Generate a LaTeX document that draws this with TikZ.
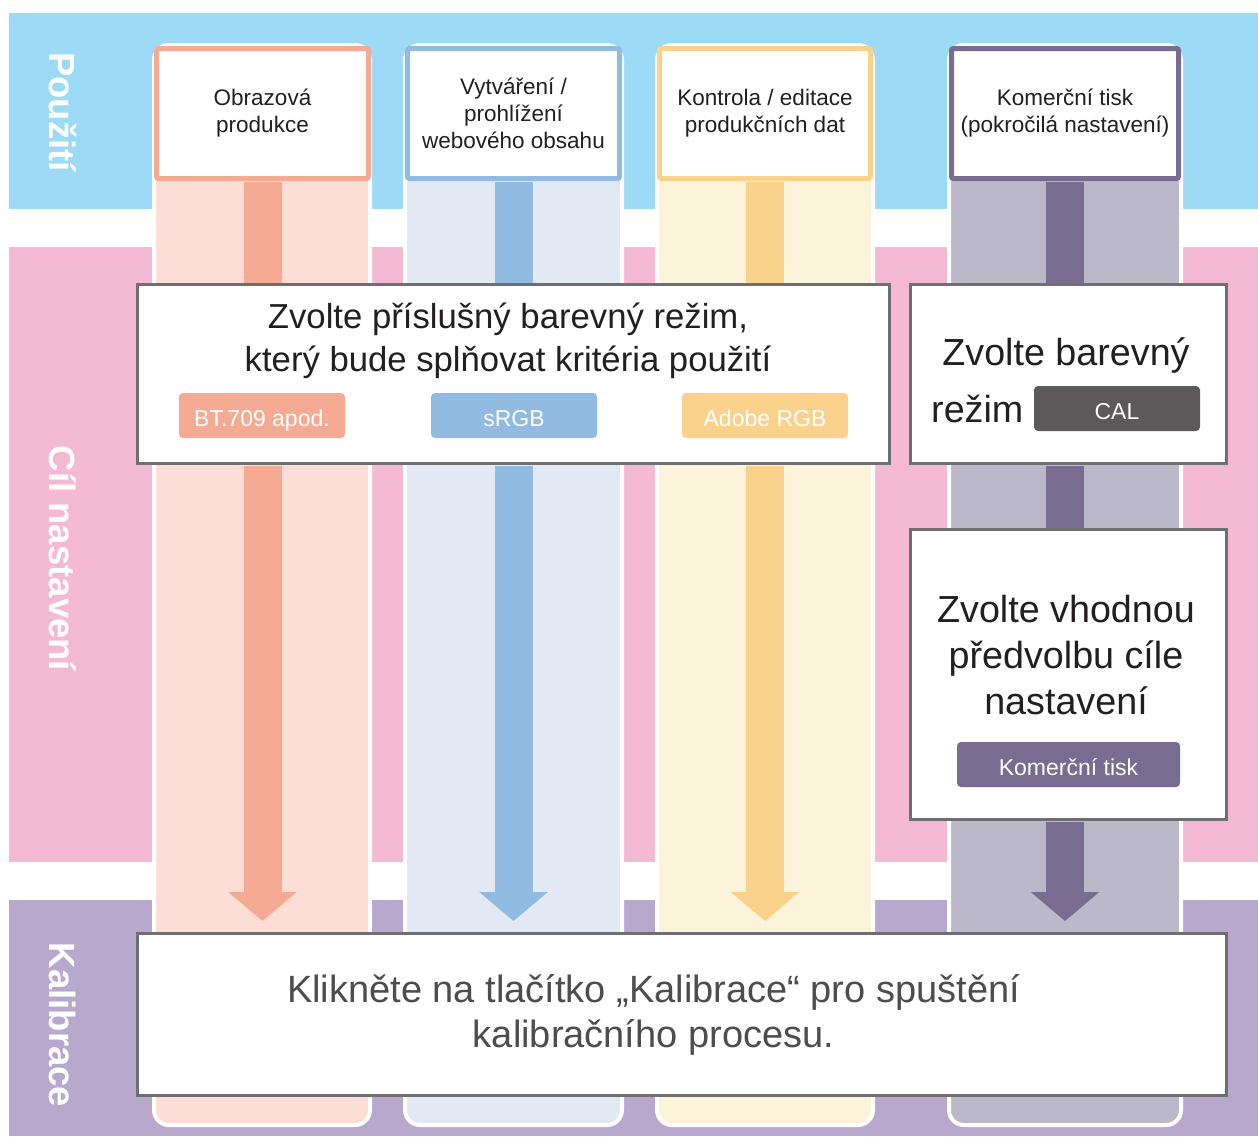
\documentclass[tikz,border=0pt]{standalone}
\usepackage{fontspec}
\setmainfont{Liberation Sans}
\usetikzlibrary{arrows.meta}
\definecolor{bandblue}{HTML}{9CDAF5}
\definecolor{bandpink}{HTML}{F5BAD3}
\definecolor{bandlilac}{HTML}{B9A8CE}
\definecolor{salmonpale}{HTML}{FCDED6}
\definecolor{salmon}{HTML}{F5AB93}
\definecolor{skypale}{HTML}{E2E9F5}
\definecolor{sky}{HTML}{91BBE0}
\definecolor{sandpale}{HTML}{FCF3DB}
\definecolor{sand}{HTML}{FBD28B}
\definecolor{plumpale}{HTML}{BBB8CA}
\definecolor{plum}{HTML}{786D91}
\definecolor{framegray}{HTML}{6D6F71}
\definecolor{inkdark}{HTML}{231F20}
\definecolor{inkgray}{HTML}{4D4D4F}
\definecolor{calgray}{HTML}{5B595A}
\begin{document}
\begin{tikzpicture}[x=1pt,y=-1pt]
			\tikzstyle{every node}+=[inner sep=0pt]
			\tikzstyle{strip}=[draw=white, line width=4pt, rounded corners=15pt]
			\tikzstyle{head}=[draw, fill=white, line width=5pt, rounded corners=2pt, minimum height=130pt, text=inkdark, align=center, font=\fontsize{22.5}{27}\selectfont]
			\tikzstyle{box}=[draw=framegray, fill=white, line width=3pt, minimum height=179pt]
			\tikzstyle{stem}=[line width=38pt, shorten <=1pt]
			\tikzstyle{tip}=[-{Triangle[width=67pt,length=29pt]}, shorten >=11pt]
			\tikzstyle{pill}=[rounded corners=4pt, minimum width=166pt, minimum height=45pt, text height=22pt, text depth=0pt, text=white, font=\fontsize{23}{27}\selectfont]
			\tikzstyle{big}=[text=inkdark, align=center, font=\fontsize{37.7}{46}\selectfont]
			\tikzstyle{side}=[rotate=-90, text=white, font=\bfseries\fontsize{36.5}{40}\selectfont]
			\useasboundingbox [fill=white] (0,0) rectangle (1258,1136);
			\fill [bandblue] (9,13) rectangle (1258,209);
			\fill [bandpink] (9,247) rectangle (1258,862);
			\fill [bandlilac] (9,900) rectangle (1258,1136);
			\node [side] (pouziti) at (63,112) {Použití};
			\node [side] (cil) at (63,558.5) {Cíl nastavení};
			\node [side] (kalibrace) at (63,1025) {Kalibrace};
			\filldraw [strip, fill=salmonpale] (154,45) rectangle (370,1125);
			\filldraw [strip, fill=skypale] (405,45) rectangle (622,1125);
			\filldraw [strip, fill=sandpale] (657,45) rectangle (873,1125);
			\filldraw [strip, fill=plumpale] (949,45) rectangle (1181,1125);
			\node [head, draw=salmon, minimum width=212pt] (obraz) at (262.5,113.5) {Obrazová\\produkce};
			\node [head, draw=sky, minimum width=212pt] (web) at (513.5,113.5) {Vytváření /\\prohlížení\\webového obsahu};
			\node [head, draw=sand, minimum width=211pt] (data) at (765,113.5) {Kontrola / editace\\produkčních dat};
			\node [head, draw=plum, minimum width=227pt] (tisk) at (1065,113.5) {Komerční tisk\\(pokročilá nastavení)};
			\node [box, minimum width=752pt] (volba) at (513.5,374) {};
			\node [box, minimum width=316pt] (rezim) at (1068.5,374) {};
			\node [box, minimum width=316pt, minimum height=290pt] (predvolba) at (1068.5,674.5) {};
			\node [box, minimum width=1089pt, minimum height=162pt] (kalib) at (682,1014.5) {};
			\draw [stem, salmon] (obraz.south) -- (volba.north -| obraz.south);
			\draw [stem, sky] (web.south) -- (volba.north -| web.south);
			\draw [stem, sand] (data.south) -- (volba.north -| data.south);
			\draw [stem, plum] (tisk.south) -- (rezim.north -| tisk.south);
			\draw [stem, plum] (rezim.south -| tisk.south) -- (predvolba.north -| tisk.south);
			\draw [stem, tip, salmon] (volba.south -| obraz.south) -- (kalib.north -| obraz.south);
			\draw [stem, tip, sky] (volba.south -| web.south) -- (kalib.north -| web.south);
			\draw [stem, tip, sand] (volba.south -| data.south) -- (kalib.north -| data.south);
			\draw [stem, tip, plum] (predvolba.south -| tisk.south) -- (kalib.north -| tisk.south);
			\node [big, font=\fontsize{34.7}{43.3}\selectfont] (volbatext) at (508,340.5) {Zvolte příslušný barevný režim,\\který bude splňovat kritéria použití};
			\node [pill, fill=salmon] (bt) at (262,415.5) {BT.709 apod.};
			\node [pill, fill=sky] (srgb) at (514,415.5) {sRGB};
			\node [pill, fill=sand] (adobe) at (765,415.5) {Adobe RGB};
			\node [big, anchor=base] (rezimtext) at (1066,365.3) {Zvolte barevný};
			\node [big, anchor=base west] (rezimslovo) at (931,422.7) {režim};
			\node [pill, fill=calgray] (cal) at (1117,408.5) {CAL};
			\node [big] (predvolbatext) at (1066,654.8) {Zvolte vhodnou\\předvolbu cíle\\nastavení};
			\node [pill, fill=plum, minimum width=223pt] (komercni) at (1068.5,764.5) {Komerční tisk};
			\node [big, text=inkgray, font=\fontsize{38}{45.5}\selectfont] (kalibtext) at (653.5,1015) {Klikněte na tlačítko „Kalibrace“ pro spuštění\\kalibračního procesu.};
		\end{tikzpicture}
\end{document}
